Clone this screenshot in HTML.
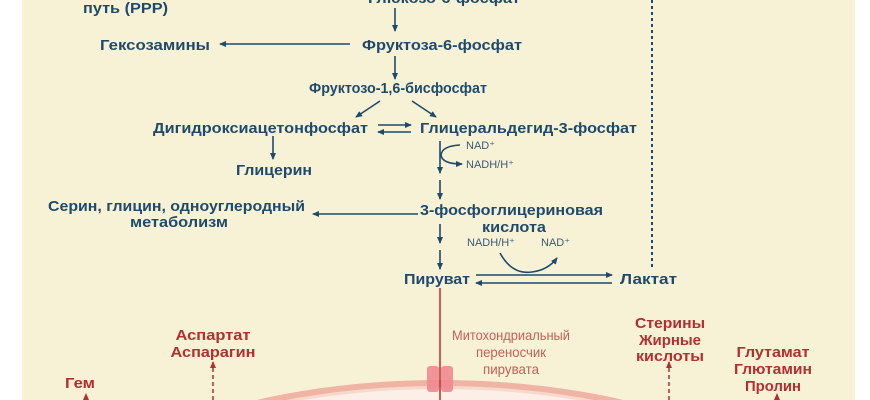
<!DOCTYPE html>
<html><head><meta charset="utf-8"><style>
html,body{margin:0;padding:0;background:#fff;width:870px;height:400px;overflow:hidden;}
svg{display:block;overflow:hidden;}
.b{font-family:"Liberation Sans",sans-serif;font-weight:bold;font-size:15px;fill:#1f4a6b;}
.s{font-family:"Liberation Sans",sans-serif;font-size:11px;fill:#3a5a78;}
.r{font-family:"Liberation Sans",sans-serif;font-weight:bold;font-size:15px;fill:#b03030;}
.rl{font-family:"Liberation Sans",sans-serif;font-size:14px;fill:#c0605a;}
</style></head><body>
<svg width="870" height="400" viewBox="0 0 870 400" xmlns="http://www.w3.org/2000/svg">
<defs>
<marker id="a" markerWidth="8" markerHeight="8" refX="6" refY="3" orient="auto" markerUnits="userSpaceOnUse"><path d="M0,0 L7,3 L0,6z" fill="#1f4a6b"/></marker>
<marker id="ar" markerWidth="8" markerHeight="8" refX="6" refY="3" orient="auto" markerUnits="userSpaceOnUse"><path d="M0,0 L7,3 L0,6z" fill="#b03030"/></marker>
<clipPath id="c"><rect x="0" y="0" width="870" height="400"/></clipPath>
</defs>
<g clip-path="url(#c)">
<rect x="22" y="0" width="833" height="400" fill="#f7f2d6"/>
<ellipse cx="440" cy="545" rx="380" ry="162" fill="#f6d8cc" stroke="#f0b4a4" stroke-width="6"/>
<ellipse cx="440" cy="545" rx="373" ry="156" fill="#fbefe8" stroke="none"/>
<text class="b" x="368" y="3" textLength="152" lengthAdjust="spacingAndGlyphs">Глюкозо-6-фосфат</text>
<text class="b" x="83" y="13" textLength="85" lengthAdjust="spacingAndGlyphs">путь (PPP)</text>
<text class="b" x="100" y="50" textLength="110" lengthAdjust="spacingAndGlyphs">Гексозамины</text>
<text class="b" x="362" y="50" textLength="160" lengthAdjust="spacingAndGlyphs">Фруктоза-6-фосфат</text>
<text class="b" x="309" y="93" textLength="178" lengthAdjust="spacingAndGlyphs">Фруктозо-1,6-бисфосфат</text>
<text class="b" x="153" y="133" textLength="215" lengthAdjust="spacingAndGlyphs">Дигидроксиацетонфосфат</text>
<text class="b" x="420" y="133" textLength="217" lengthAdjust="spacingAndGlyphs">Глицеральдегид-3-фосфат</text>
<text class="b" x="236" y="175" textLength="76" lengthAdjust="spacingAndGlyphs">Глицерин</text>
<text class="b" x="48" y="211" textLength="257" lengthAdjust="spacingAndGlyphs">Серин, глицин, одноуглеродный</text>
<text class="b" x="130" y="227" textLength="98" lengthAdjust="spacingAndGlyphs">метаболизм</text>
<text class="b" x="420" y="215" textLength="183" lengthAdjust="spacingAndGlyphs">3-фосфоглицериновая</text>
<text class="b" x="482" y="232" textLength="64" lengthAdjust="spacingAndGlyphs">кислота</text>
<text class="b" x="404" y="284" textLength="66" lengthAdjust="spacingAndGlyphs">Пируват</text>
<text class="b" x="620" y="284" textLength="57" lengthAdjust="spacingAndGlyphs">Лактат</text>
<text class="s" x="466" y="149">NAD⁺</text>
<text class="s" x="466" y="168">NADH/H⁺</text>
<text class="s" x="467" y="246">NADH/H⁺</text>
<text class="s" x="541" y="246">NAD⁺</text>
<g stroke="#1f4a6b" stroke-width="1.6" fill="none">
<line x1="395" y1="8" x2="395" y2="31" marker-end="url(#a)"/>
<line x1="395" y1="56" x2="395" y2="79" marker-end="url(#a)"/>
<line x1="350" y1="44" x2="220" y2="44" marker-end="url(#a)"/>
<line x1="380" y1="101" x2="356" y2="117" marker-end="url(#a)"/>
<line x1="412" y1="101" x2="436" y2="117" marker-end="url(#a)"/>
<line x1="378" y1="125" x2="411" y2="125" marker-end="url(#a)"/>
<line x1="411" y1="132" x2="378" y2="132" marker-end="url(#a)"/>
<line x1="273" y1="136" x2="273" y2="159" marker-end="url(#a)"/>
<line x1="440" y1="141" x2="440" y2="173" marker-end="url(#a)"/>
<path d="M460,145 Q442,146 441,155 Q442,164 462,164" marker-end="url(#a)"/>
<line x1="440" y1="180" x2="440" y2="199" marker-end="url(#a)"/>
<line x1="418" y1="214" x2="313" y2="214" marker-end="url(#a)"/>
<line x1="440" y1="224" x2="440" y2="243" marker-end="url(#a)"/>
<line x1="440" y1="250" x2="440" y2="269" marker-end="url(#a)"/>
<path d="M500,253 Q512,275 532,272 Q548,270 557,258" marker-end="url(#a)"/>
<line x1="476" y1="275" x2="612" y2="275" marker-end="url(#a)"/>
<line x1="612" y1="283" x2="476" y2="283" marker-end="url(#a)"/>
<line x1="652" y1="0" x2="652" y2="268" stroke-dasharray="3,3" stroke-width="2"/>
</g>
<line x1="440" y1="288" x2="440" y2="400" stroke="#b03030" stroke-width="1.5"/>
<rect x="427" y="366" width="12" height="26" rx="3" fill="#f08890" opacity="0.9"/>
<rect x="441" y="366" width="12" height="26" rx="3" fill="#f08890" opacity="0.9"/>
<g stroke="#b03030" stroke-width="1.5" fill="none" stroke-dasharray="4,3">
<line x1="213" y1="400" x2="213" y2="362" marker-end="url(#ar)"/>
<line x1="669" y1="400" x2="669" y2="362" marker-end="url(#ar)"/>
<line x1="86" y1="400" x2="86" y2="394" marker-end="url(#ar)"/>
<line x1="777" y1="400" x2="777" y2="394" marker-end="url(#ar)"/>
</g>
<g text-anchor="middle">
<text class="r" x="213" y="340" textLength="75" lengthAdjust="spacingAndGlyphs">Аспартат</text>
<text class="r" x="213" y="357" textLength="85" lengthAdjust="spacingAndGlyphs">Аспарагин</text>
<text class="r" x="80" y="388" textLength="30" lengthAdjust="spacingAndGlyphs">Гем</text>
<text class="rl" x="511" y="340" textLength="118" lengthAdjust="spacingAndGlyphs">Митохондриальный</text>
<text class="rl" x="511" y="357" textLength="70" lengthAdjust="spacingAndGlyphs">переносчик</text>
<text class="rl" x="511" y="374" textLength="56" lengthAdjust="spacingAndGlyphs">пирувата</text>
<text class="r" x="670" y="328" textLength="70" lengthAdjust="spacingAndGlyphs">Стерины</text>
<text class="r" x="670" y="345" textLength="62" lengthAdjust="spacingAndGlyphs">Жирные</text>
<text class="r" x="670" y="361" textLength="68" lengthAdjust="spacingAndGlyphs">кислоты</text>
<text class="r" x="773" y="357" textLength="73" lengthAdjust="spacingAndGlyphs">Глутамат</text>
<text class="r" x="773" y="374" textLength="78" lengthAdjust="spacingAndGlyphs">Глютамин</text>
<text class="r" x="773" y="391" textLength="56" lengthAdjust="spacingAndGlyphs">Пролин</text>
</g>
</g>
</svg>
</body></html>
